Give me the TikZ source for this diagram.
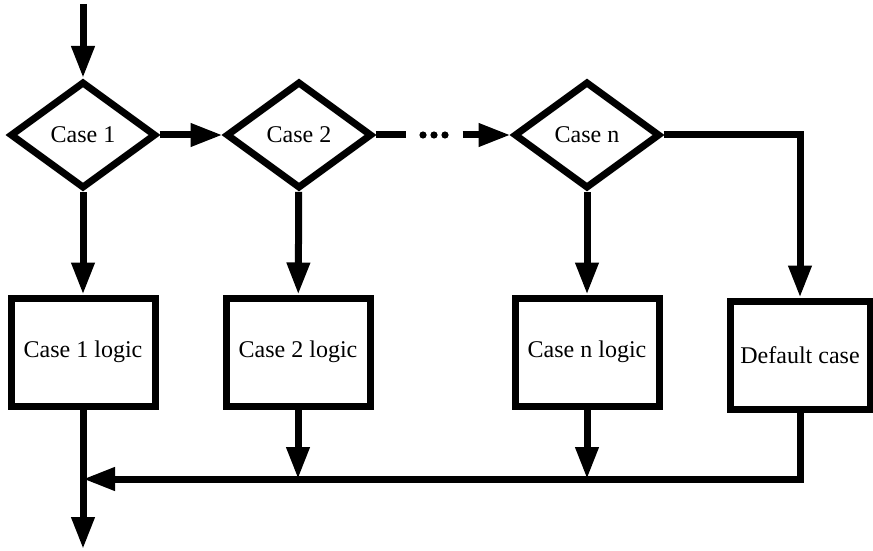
\documentclass[tikz,border=0pt]{standalone}
\usepackage{fontspec}
\setmainfont{Liberation Serif}
\usetikzlibrary{shapes.geometric,arrows.meta}

\begin{document}
\begin{tikzpicture}[x=0.5pt,y=-0.5pt,font=\fontsize{12}{14}\selectfont,
    line width=3.5pt,
    dmd/.style={draw,diamond,inner sep=0pt,minimum width=73pt,minimum height=53.5pt},
    bx/.style={draw,inner sep=0pt,minimum width=72pt,minimum height=54pt},
    lnk/.style={-{Triangle[length=16pt,width=11pt]}}]

  \useasboundingbox (0,0) rectangle (873,551);

  % decisions
  \node[dmd] (c1) at (83,135) {Case 1};
  \node[dmd] (c2) at (299,135) {Case 2};
  \node[dmd] (cn) at (587,135) {Case n};
  \node[minimum width=25pt,inner sep=0pt] (dots) at (434,135) {};
  \foreach \x in {423,434,445}
    \fill (\x,135) circle (1.8pt);

  % case bodies
  \node[bx] (b1) at (83,352) {Case 1 logic};
  \node[bx] (b2) at (298,352) {Case 2 logic};
  \node[bx] (bn) at (587,352) {Case n logic};
  \node[bx,minimum width=70pt] (bd) at (800,355) {Default case};

  \coordinate (in) at (83,4);
  \coordinate (merge) at (83,479);
  \coordinate (out) at (83,549);

  \draw[lnk] (in) -- (c1.north);
  \draw[lnk] (c1) -- (c2);
  \draw (c2.east) -- (dots.west);
  \draw[lnk] (dots.east) -- (cn.west);
  \draw[lnk] (c1) -- (b1);
  \draw[lnk] (c2) -- (b2);
  \draw[lnk] (cn) -- (bn);
  \draw[lnk] (cn.east) -| (bd.north);

  \draw[lnk] (b2.south) -- (b2.south |- merge);
  \draw[lnk] (bn.south) -- (bn.south |- merge);
  \draw[lnk] (bd.south) |- (merge);
  \draw[lnk] (b1.south) -- (out);
\end{tikzpicture}
\end{document}
